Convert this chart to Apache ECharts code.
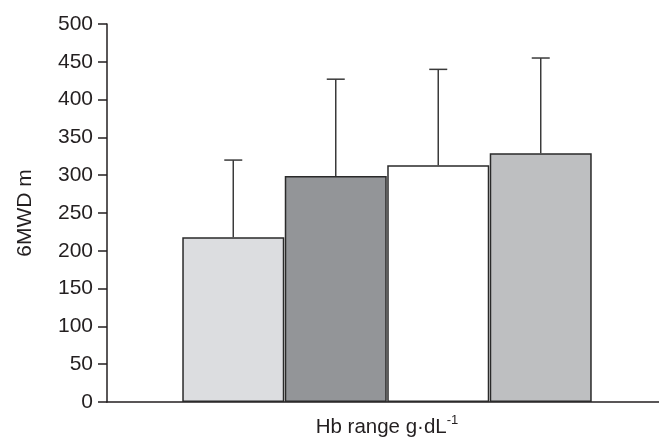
<!DOCTYPE html>
<html>
<head>
<meta charset="utf-8">
<script src="https://cdn.jsdelivr.net/npm/echarts@6/dist/echarts.min.js"></script>
<style>html,body{margin:0;padding:0;background:#fff}#c{width:659px;height:438px}</style>
</head>
<body>
<div id="c"></div>
<script>
// Data
const groups = [1, 2, 3, 4];               // bar positions along the x axis (four Hb ranges)
const meanValues = [218, 299, 313, 329];   // 6MWD mean (m)
const upperValues = [320, 427, 440, 455];  // mean + SD (m)
const yTicks = [0, 50, 100, 150, 200, 250, 300, 350, 400, 450, 500];
const barColors = ['#dcdde0', '#939598', '#ffffff', '#bebfc1'];

const ink = '#231f20';
const chart = echarts.init(document.getElementById('c'), null, {renderer: 'canvas'});

const barData = groups.map((g, i) => ({
  value: [g, meanValues[i]],
  itemStyle: {color: barColors[i]}
}));
const errData = groups.map((g, i) => [g, meanValues[i], upperValues[i]]);

chart.setOption({
  animation: false,
  backgroundColor: '#fff',
  grid: {left: 107, right: -8, top: 24, bottom: 36, containLabel: false, outerBoundsMode: 'none'},
  xAxis: {
    type: 'value',
    min: -0.232,
    max: 5.232,
    axisLine: {show: true, onZero: false, lineStyle: {color: ink, width: 1.5}},
    axisTick: {show: false},
    axisLabel: {show: false},
    splitLine: {show: false},
    name: '{a|Hb range g·dL}{b|-1}',
    nameLocation: 'middle',
    nameGap: 12,
    nameTextStyle: {
      fontFamily: 'Liberation Sans',
      rich: {
        a: {fontSize: 20.5, color: ink, fontFamily: 'Liberation Sans', verticalAlign: 'bottom', lineHeight: 24},
        b: {fontSize: 13, color: ink, fontFamily: 'Liberation Sans', verticalAlign: 'top', lineHeight: 24, padding: [0, 0, 12, 0]}
      }
    }
  },
  yAxis: {
    type: 'value',
    min: yTicks[0],
    max: yTicks[yTicks.length - 1],
    interval: 50,
    axisLine: {show: true, onZero: false, lineStyle: {color: ink, width: 1.5}},
    axisTick: {show: true, inside: false, length: 9, lineStyle: {color: ink, width: 1.5}},
    axisLabel: {fontSize: 21, color: ink, fontFamily: 'Liberation Sans', margin: 14},
    splitLine: {show: false},
    name: '6MWD m',
    nameLocation: 'middle',
    nameRotate: 90,
    nameGap: 71,
    nameTextStyle: {fontSize: 21, color: ink, fontFamily: 'Liberation Sans'}
  },
  series: [
    {
      type: 'bar',
      data: barData,
      barWidth: 102,
      itemStyle: {borderColor: '#2a2a2a', borderWidth: 1.5},
      z: 2
    },
    {
      type: 'custom',
      data: errData,
      z: 1,
      renderItem: function (params, api) {
        const x = api.value(0);
        const p0 = api.coord([x, api.value(1)]);
        const p1 = api.coord([x, api.value(2)]);
        const cap = 9;
        const st = {stroke: '#3a3a3a', lineWidth: 1.5};
        return {
          type: 'group',
          children: [
            {type: 'line', shape: {x1: p0[0], y1: p0[1], x2: p1[0], y2: p1[1]}, style: st},
            {type: 'line', shape: {x1: p1[0] - cap, y1: p1[1], x2: p1[0] + cap, y2: p1[1]}, style: st}
          ]
        };
      }
    }
  ]
});
</script>
</body>
</html>
